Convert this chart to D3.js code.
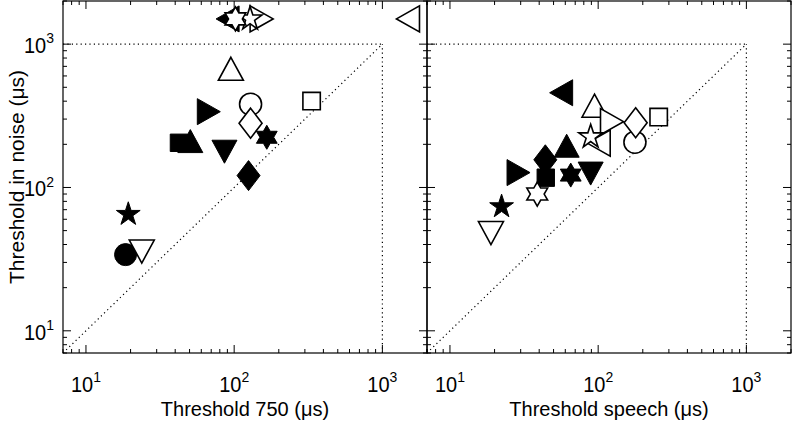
<!DOCTYPE html>
<html>
<head>
<meta charset="utf-8">
<script src="https://cdn.jsdelivr.net/npm/d3@7"></script>
<style>
  body { margin: 0; background: #fff; }
  text { font-family: "Liberation Sans", Arial, sans-serif; fill: #000; }
</style>
</head>
<body>
<div id="chart"></div>
<script>
// one entry per listener: marker shape and whether it is filled
const shapes = ["circle","diamond","square","up","down","left","right","pentagram","hexagram",
                "circle","diamond","square","up","down","left","right","pentagram","hexagram"];
const filled = [false,false,false,false,false,false,false,false,false,
                true,true,true,true,true,true,true,true,true];

// panel 1: threshold 750 vs threshold in noise (1500 = not reached)
const x750    = [129,129,333,95,23.8,1500,152,128,102, 18.5,125,42.4,50.6,86,91,66.9,19.3,166];
const yNoise1 = [381,281,401,668,36,1500,1500,1500,1500, 34,121,205,209,179,1500,338,65,224];

// panel 2: threshold speech vs threshold in noise (filled circle not visible -> null)
const xSpeech = [177,179,256,94.5,18.9,101.6,123,89,38.8, null,44,44.3,61.3,89,56.7,28.8,22.3,65.3];
const yNoise2 = [207,283,310,369,48.5,204,288,226,90, null,156,117,194,126,458,127,73.5,122];

const tickExp = [1, 2, 3];
const domain = [7, 2000];

const width = 793, height = 422;
const svg = d3.select("#chart").append("svg")
    .attr("width", width)
    .attr("height", height);

// marker outlines around (0,0)
function markerPath(shape) {
  const p = d3.path();
  if (shape === "circle") {
    p.arc(0, 0, 11, 0, 2 * Math.PI);
  } else if (shape === "square") {
    p.rect(-8.7, -8.7, 17.4, 17.4);
  } else if (shape === "diamond") {
    p.moveTo(0, -15); p.lineTo(11.5, 0); p.lineTo(0, 15); p.lineTo(-11.5, 0); p.closePath();
  } else if (shape === "up") {
    p.moveTo(0, -12); p.lineTo(12.5, 11); p.lineTo(-12.5, 11); p.closePath();
  } else if (shape === "down") {
    p.moveTo(0, 12); p.lineTo(12.5, -11); p.lineTo(-12.5, -11); p.closePath();
  } else if (shape === "left") {
    p.moveTo(-12, 0); p.lineTo(11, -13); p.lineTo(11, 13); p.closePath();
  } else if (shape === "right") {
    p.moveTo(12, 0); p.lineTo(-11, -13); p.lineTo(-11, 13); p.closePath();
  } else if (shape === "pentagram" || shape === "hexagram") {
    const n = shape === "pentagram" ? 5 : 6;
    const ro = shape === "pentagram" ? 12.5 : 12;
    const ri = shape === "pentagram" ? ro * 0.382 : ro * 0.577;
    for (let k = 0; k < 2 * n; k++) {
      const r = k % 2 === 0 ? ro : ri;
      const a = -Math.PI / 2 + k * Math.PI / n;
      if (k === 0) p.moveTo(r * Math.cos(a), r * Math.sin(a));
      else p.lineTo(r * Math.cos(a), r * Math.sin(a));
    }
    p.closePath();
  }
  return p.toString();
}

function powLabel(g, px, py, e, anchor) {
  const t = g.append("text")
    .attr("transform", `translate(${px},${py}) scale(1,1.08)`)
    .attr("text-anchor", anchor)
    .style("font-size", "20px");
  t.append("tspan").text("10");
  t.append("tspan").attr("dy", -9).style("font-size", "14px").text(e);
}

function drawPanel(left, right, xs, ys, label, showY) {
  const top = 1, bottom = 353;
  const x = d3.scaleLog().domain(domain).range([left, right]);
  const y = d3.scaleLog().domain(domain).range([bottom, top]);
  const g = svg.append("g");

  // dotted guides
  const guides = [
    [[domain[0], 1000], [1000, 1000]],
    [[1000, domain[0]], [1000, 1000]],
    [[domain[0], domain[0]], [1000, 1000]]
  ];
  g.selectAll("line.guide")
    .data(guides)
    .enter().append("line")
    .attr("class", "guide")
    .attr("x1", d => x(d[0][0])).attr("y1", d => y(d[0][1]))
    .attr("x2", d => x(d[1][0])).attr("y2", d => y(d[1][1]))
    .attr("stroke", "#000").attr("stroke-width", 1.2)
    .attr("stroke-dasharray", "1.2,3.2");

  // ticks (inward, all four sides)
  const ticks = [];
  for (let e = 0; e <= 3; e++) {
    for (let m = 1; m <= 9; m++) {
      const v = m * Math.pow(10, e);
      if (v >= domain[0] && v <= domain[1]) ticks.push({ v: v, major: m === 1 });
    }
  }
  const tg = g.append("g").attr("stroke", "#000").attr("stroke-width", 1);
  ticks.forEach(t => {
    const len = t.major ? 8 : 4;
    const tx = x(t.v), ty = y(t.v);
    tg.append("line").attr("x1", tx).attr("x2", tx).attr("y1", bottom).attr("y2", bottom - len);
    tg.append("line").attr("x1", tx).attr("x2", tx).attr("y1", top).attr("y2", top + len);
    tg.append("line").attr("y1", ty).attr("y2", ty).attr("x1", left).attr("x2", left + len);
    tg.append("line").attr("y1", ty).attr("y2", ty).attr("x1", right).attr("x2", right - len);
  });

  // markers: filled first, open on top
  const idx = d3.range(shapes.length)
    .filter(i => xs[i] != null && ys[i] != null)
    .sort((a, b) => (filled[b] - filled[a]) || (a - b));
  g.selectAll("path.mk")
    .data(idx)
    .enter().append("path")
    .attr("class", "mk")
    .attr("d", i => markerPath(shapes[i]))
    .attr("transform", i => `translate(${x(xs[i])},${y(ys[i])})`)
    .attr("fill", i => filled[i] ? "#000" : "#fff")
    .attr("stroke", "#000")
    .attr("stroke-width", i => filled[i] ? 1 : 1.6);

  // frame
  g.append("rect")
    .attr("x", left).attr("y", top)
    .attr("width", right - left).attr("height", bottom - top)
    .attr("fill", "none").attr("stroke", "#000").attr("stroke-width", 1.2);

  // tick labels
  tickExp.forEach(e => {
    const v = Math.pow(10, e);
    powLabel(g, x(v), 392, e, "middle");
    if (showY) powLabel(g, left - 9, y(v) + 9, e, "end");
  });

  g.append("text")
    .attr("x", (left + right) / 2).attr("y", 416)
    .attr("text-anchor", "middle")
    .style("font-size", "20px")
    .text(label);
}

drawPanel(63, 427, x750, yNoise1, "Threshold 750 (μs)", true);
drawPanel(427, 791, xSpeech, yNoise2, "Threshold speech (μs)", false);

svg.append("text")
  .attr("transform", "translate(24,177) rotate(-90)")
  .attr("text-anchor", "middle")
  .style("font-size", "21px")
  .text("Threshold in noise (μs)");
</script>
</body>
</html>
